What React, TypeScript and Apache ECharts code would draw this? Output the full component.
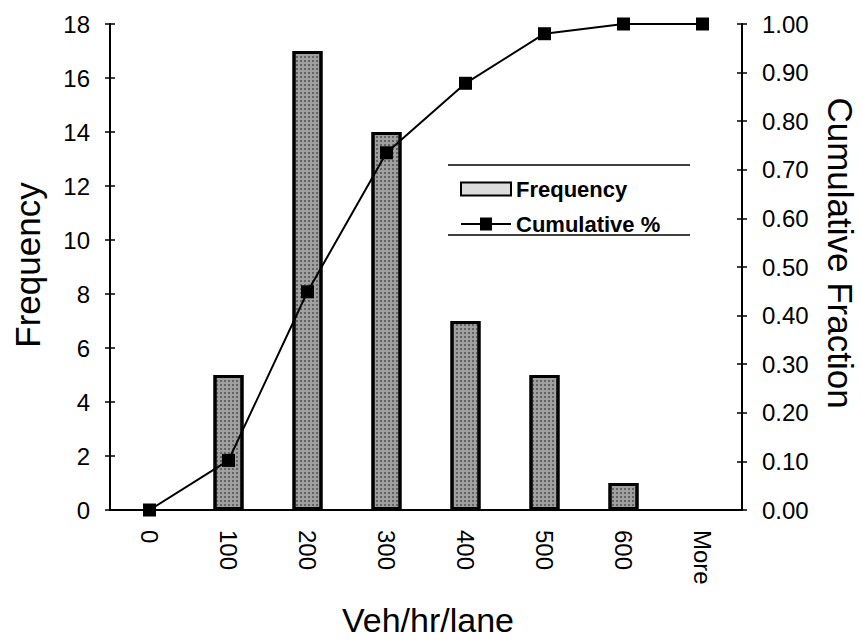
import React, { useEffect, useRef } from "react";
import * as echarts from "echarts";

const categories = ["0", "100", "200", "300", "400", "500", "600", "More"];
const frequency = [0, 5, 17, 14, 7, 5, 1, 0];
const cumulative = [0, 0.102, 0.449, 0.735, 0.878, 0.98, 1, 1];
const seriesNames = ["Frequency", "Cumulative %"];
const axisTitles = { x: "Veh/hr/lane", left: "Frequency", right: "Cumulative Fraction" };

const FONT = "'Liberation Sans', Arial, sans-serif";

export default function App() {
  const ref = useRef<HTMLDivElement>(null);
  useEffect(() => {
    if (!ref.current) return;
    const chart = echarts.init(ref.current, null, { renderer: "svg" });
    const axisLine = { show: true, lineStyle: { color: "#000", width: 2 } };
    const leftBase = { type: "value", min: 0, max: 18, interval: 2 };
    const rightBase = { type: "value", min: 0, max: 1, interval: 0.1 };
    const tickStyle = { color: "#000", width: 1.5 };
    chart.setOption({
      animation: false,
      backgroundColor: "#fff",
      textStyle: { fontFamily: FONT },
      grid: { left: 110, right: 119, top: 24, bottom: 131, containLabel: false },
      legend: {
        orient: "vertical",
        left: 455,
        top: 173,
        itemWidth: 50,
        itemHeight: 13,
        itemGap: 13,
        data: [
          {
            name: seriesNames[0],
            icon: "rect",
            itemStyle: { color: "#dcdcdc", borderColor: "#000", borderWidth: 2, decal: "none" },
          },
          {
            name: seriesNames[1],
            icon: "path://M0,5.5H50V7.5H0Z M19,0H31V13H19Z",
            itemStyle: { color: "#000", borderWidth: 0 },
          },
        ],
        textStyle: { fontFamily: FONT, fontSize: 22, fontWeight: "bold", color: "#000" },
      },
      xAxis: [
        {
          type: "category",
          data: categories,
          position: "bottom",
          axisLine,
          axisTick: { show: false },
          axisLabel: { rotate: -90, fontSize: 24, color: "#000", margin: 20, fontFamily: FONT },
        },
        {
          type: "category",
          data: categories,
          position: "top",
          axisLine,
          axisTick: { show: false },
          axisLabel: { show: false },
        },
      ],
      yAxis: [
        {
          ...leftBase,
          position: "left",
          axisLine,
          axisTick: { show: true, length: 5, lineStyle: tickStyle },
          axisLabel: { fontSize: 24, color: "#000", margin: 20, fontFamily: FONT },
          splitLine: { show: false },
        },
        {
          ...rightBase,
          position: "right",
          axisLine,
          axisTick: { show: true, length: 5, lineStyle: tickStyle },
          axisLabel: {
            fontSize: 24,
            color: "#000",
            margin: 20,
            fontFamily: FONT,
            formatter: (v: number) => v.toFixed(2),
          },
          splitLine: { show: false },
        },
        {
          ...leftBase,
          position: "left",
          axisLine: { show: false },
          axisTick: { show: true, inside: true, length: 5, lineStyle: tickStyle },
          axisLabel: { show: false },
          splitLine: { show: false },
        },
        {
          ...rightBase,
          position: "right",
          axisLine: { show: false },
          axisTick: { show: true, inside: true, length: 5, lineStyle: tickStyle },
          axisLabel: { show: false },
          splitLine: { show: false },
        },
      ],
      graphic: [
        {
          type: "text",
          x: 27,
          y: 265,
          rotation: Math.PI / 2,
          style: {
            text: axisTitles.left,
            fontSize: 35,
            fontFamily: FONT,
            fill: "#000",
            align: "center",
            verticalAlign: "middle",
          },
        },
        {
          type: "text",
          x: 840,
          y: 253,
          rotation: -Math.PI / 2,
          style: {
            text: axisTitles.right,
            fontSize: 35,
            fontFamily: FONT,
            fill: "#000",
            align: "center",
            verticalAlign: "middle",
          },
        },
        {
          type: "text",
          x: 428,
          y: 620,
          style: {
            text: axisTitles.x,
            fontSize: 34,
            fontFamily: FONT,
            fill: "#000",
            align: "center",
            verticalAlign: "middle",
          },
        },
        {
          type: "line",
          shape: { x1: 448, y1: 165, x2: 690, y2: 165 },
          style: { stroke: "#000", lineWidth: 1.5 },
        },
        {
          type: "line",
          shape: { x1: 448, y1: 235, x2: 690, y2: 235 },
          style: { stroke: "#000", lineWidth: 1.5 },
        },
      ],
      series: [
        {
          name: seriesNames[0],
          type: "bar",
          data: frequency.map((v) => (v === 0 ? { value: v, itemStyle: { borderWidth: 0 } } : v)),
          xAxisIndex: 0,
          yAxisIndex: 0,
          barWidth: 30,
          itemStyle: {
            color: "#a0a0a0",
            borderColor: "#000",
            borderWidth: 3,
            decal: {
              symbol: "rect",
              symbolSize: 1,
              dashArrayX: [2, 2],
              dashArrayY: [2, 2],
              color: "rgba(40,40,40,0.5)",
            },
          },
          z: 2,
        },
        {
          name: seriesNames[1],
          type: "line",
          data: cumulative,
          xAxisIndex: 0,
          yAxisIndex: 1,
          symbol: "rect",
          symbolSize: 13,
          lineStyle: { color: "#000", width: 2 },
          itemStyle: { color: "#000" },
          z: 3,
        },
      ],
    });
    return () => chart.dispose();
  }, []);
  return (
    <div
      ref={ref}
      style={{ position: "absolute", left: 0, top: 0, width: 861, height: 641, background: "#fff" }}
    />
  );
}
